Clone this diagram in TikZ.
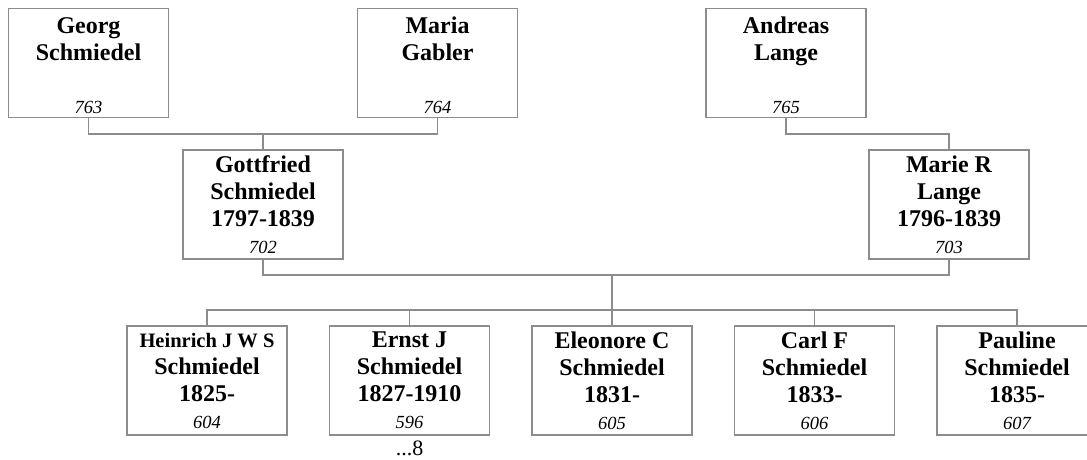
\documentclass[tikz,border=0pt]{standalone}
\usepackage{fontspec}
\setmainfont{Liberation Serif}
\usepackage{tikz}
\usetikzlibrary{positioning}
\tikzstyle{link} = [draw=black!45, line width=1.1pt]
\tikzstyle{person} = [
    rectangle, minimum width=160pt, minimum height=109pt, align=center,
    draw=black!45, line width=1.2pt, inner sep=0pt,
    font=\fontsize{24}{27}\selectfont\bfseries]
\newcommand{\idno}[1]{{\fontsize{18.5}{27}\selectfont\mdseries\itshape #1}}
\newcommand{\topstrut}{\rule{0pt}{22pt}}

\begin{document}
\begin{tikzpicture}[x=1pt, y=-1pt, node distance=41.3pt]
\useasboundingbox (0,0) rectangle (1087,459);
\clip (0,0) rectangle (1087,459);

% grandparents
\node (georg) [person] at (88.5,63) {\topstrut Georg\\Schmiedel\\[26pt]\idno{763}};
\node (maria) [person] at (437.5,63) {\topstrut Maria\\Gabler\\[26pt]\idno{764}};
\node (andreas) [person] at (786,63) {\topstrut Andreas\\Lange\\[26pt]\idno{765}};

% parents
\node (gottfried) [person] at (263,204.5) {
    Gottfried\\Schmiedel\\1797-1839\\\idno{702}
};
\node (marie) [person] at (949,204.5) {
    Marie R\\Lange\\1796-1839\\\idno{703}
};

% children
\node (heinrich) [person] at (207,380.5) {
    {\fontsize{20.5}{27}\selectfont Heinrich J W S}\\Schmiedel\\1825-\\\idno{604}
};
\node (ernst) [person, right=of heinrich] {
    Ernst J\\Schmiedel\\1827-1910\\\idno{596}
};
\node (eleonore) [person, right=of ernst] {
    Eleonore C\\Schmiedel\\1831-\\\idno{605}
};
\node (carl) [person, right=of eleonore] {
    Carl F\\Schmiedel\\1833-\\\idno{606}
};
\node (pauline) [person, right=of carl] {
    Pauline\\Schmiedel\\1835-\\\idno{607}
};
\node (ernstmore) [below=5pt of ernst, inner sep=0pt, font=\fontsize{22}{27}\selectfont] {...8};

\coordinate (top1) at (263,134);
\coordinate (mid) at (eleonore.north |- 0,275);
\coordinate (kids) at (eleonore.north |- 0,310);

\draw [link] (georg.south) |- (top1) -| (maria.south);
\draw [link] (top1) -- (gottfried.north);
\draw [link] (andreas.south) |- (marie.north |- top1) -- (marie.north);
\draw [link] (gottfried.south) |- (mid) -| (marie.south);
\draw [link] (mid) -- (eleonore.north);
\draw [link] (heinrich.north) |- (kids) -| (pauline.north);
\foreach \kid in {ernst, carl}
    \draw [link] (\kid.north) -- (\kid.north |- kids);
\end{tikzpicture}
\end{document}
